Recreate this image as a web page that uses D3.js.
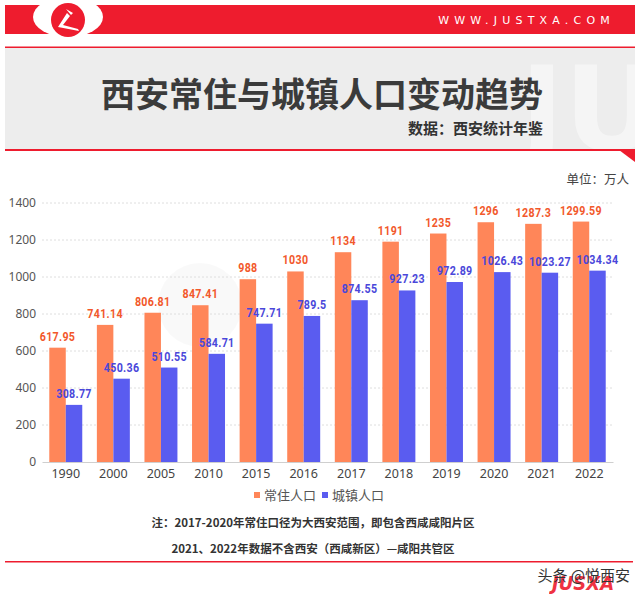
<!DOCTYPE html>
<html><head><meta charset="utf-8">
<script src="https://cdn.jsdelivr.net/npm/d3@7"></script>
<style>
html,body{margin:0;padding:0;background:#fff;}
svg{display:block;font-family:"Noto Sans CJK SC","Noto Sans",sans-serif;}
</style></head>
<body>
<svg id="chart" width="640" height="597"></svg>
<script>
const years = ["1990","2000","2005","2010","2015","2016","2017","2018","2019","2020","2021","2022"];
const residentPop = [617.95,741.14,806.81,847.41,988,1030,1134,1191,1235,1296,1287.3,1299.59];
const urbanPop = [308.77,450.36,510.55,584.71,747.71,789.5,874.55,927.23,972.89,1026.43,1023.27,1034.34];
const seriesNames = ["常住人口","城镇人口"];
const yTicks = [0,200,400,600,800,1000,1200,1400];
const titleText = "西安常住与城镇人口变动趋势";
const subtitleText = "数据：西安统计年鉴";
const unitText = "单位：万人";
const noteLines = ["注：2017-2020年常住口径为大西安范围，即包含西咸咸阳片区","2021、2022年数据不含西安（西咸新区）—咸阳共管区"];

const barColors = ["#FF8659","#5A5CF0"];
const labelColors = ["#F2582B","#4A47DA"];
const red = "#EE1C2E";

const svg = d3.select("#chart");

const defs = svg.append("defs");
defs.append("clipPath").attr("id","grayClip").append("rect").attr("x",5).attr("y",48).attr("width",630).attr("height",101);

// Header
svg.append("rect").attr("x",5).attr("y",5).attr("width",630).attr("height",29).attr("fill",red);
svg.append("ellipse").attr("cx",68).attr("cy",17).attr("rx",35).attr("ry",20).attr("fill","#fff");
svg.append("circle").attr("cx",68).attr("cy",20).attr("r",17).attr("fill",red);
svg.append("path").attr("d","M58,27 L67,13 L70,16 L63,25 L78,29 L79,31 Z M66,9 L73,13 L71,15 Z")
  .attr("fill","#fff");
svg.append("text").attr("x",615).attr("y",24).attr("text-anchor","end")
  .attr("fill","#fff").attr("font-size",11).attr("letter-spacing",5.2)
  .attr("font-family","'DejaVu Sans',sans-serif").text("WWW.JUSTXA.COM");

// Gray band
svg.append("rect").attr("x",5).attr("y",46.5).attr("width",630).attr("height",1.5).attr("fill",red);
svg.append("rect").attr("x",5).attr("y",48).attr("width",630).attr("height",101).attr("fill","#EDEDED");
svg.append("g").attr("clip-path","url(#grayClip)").append("text").attr("x",520).attr("y",150)
  .attr("font-size",118).attr("font-weight",700).attr("fill","#fff").attr("opacity",0.45)
  .attr("font-family","'DejaVu Sans',sans-serif").text("JUS");
svg.append("rect").attr("x",5).attr("y",149).attr("width",630).attr("height",2).attr("fill",red);
svg.append("path").attr("d","M619,150 L635,150 L635,162 Z").attr("fill",red);

svg.append("text").attr("x",322).attr("y",107).attr("text-anchor","middle")
  .attr("font-size",34).attr("font-weight",700).attr("fill","#3B3B3B").text(titleText);
svg.append("text").attr("x",543).attr("y",134).attr("text-anchor","end")
  .attr("font-size",15).attr("font-weight",700).attr("fill","#333").text(subtitleText);

svg.append("text").attr("x",629).attr("y",184).attr("text-anchor","end")
  .attr("font-size",12.5).attr("fill","#444").text(unitText);

// Chart
const x0 = 42, x1 = 613, yTop = 203, yBot = 462;
const x = d3.scaleBand().domain(years).range([x0,x1]).paddingInner(0.307).paddingOuter(0.153);
const xs = d3.scaleBand().domain([0,1]).range([0,x.bandwidth()]);
const y = d3.scaleLinear().domain([0,1400]).range([yBot,yTop]);

// faint watermark
svg.append("circle").attr("cx",200).attr("cy",305).attr("r",42).attr("fill","#000").attr("opacity",0.025);

// grid
svg.append("g").selectAll("line").data(yTicks.filter(d=>d>0)).join("line")
  .attr("x1",x0).attr("x2",x1).attr("y1",d=>y(d)).attr("y2",d=>y(d))
  .attr("stroke","#DEDEDE").attr("stroke-width",1).attr("stroke-dasharray","2,2");

// y axis labels
const yAxis = d3.axisLeft(y).tickValues(yTicks).tickFormat(d3.format("d")).tickSize(0).tickPadding(5);
const gy = svg.append("g").attr("transform",`translate(${x0-1},0)`).call(yAxis);
gy.select(".domain").remove();
gy.selectAll("text").attr("font-size",12).attr("fill","#555")
  .attr("font-family","'Noto Sans',sans-serif");

// x axis
const xAxis = d3.axisBottom(x).tickSize(0).tickPadding(7);
const gx = svg.append("g").attr("transform",`translate(0,${yBot})`).call(xAxis);
gx.select(".domain").attr("stroke","#CFCFCF");
gx.selectAll("text").attr("font-size",12.5).attr("fill","#444")
  .attr("font-family","'Noto Sans',sans-serif");

// bars
const series = [residentPop, urbanPop];
series.forEach((vals,si)=>{
  const g = svg.append("g");
  g.selectAll("rect").data(years).join("rect")
    .attr("x",d=>x(d)+xs(si)).attr("width",xs.bandwidth())
    .attr("y",(d,i)=>y(vals[i])).attr("height",(d,i)=>yBot-y(vals[i]))
    .attr("fill",barColors[si]);
  g.selectAll("g.lbl").data(years).join("g").attr("class","lbl")
    .attr("transform",(d,i)=>`translate(${x(d)+xs(si)+xs.bandwidth()/2},${y(vals[i])-7}) scale(0.79,1)`)
    .append("text")
    .attr("text-anchor","middle")
    .attr("font-size",13.5).attr("font-weight",700)
    .attr("font-family","Roboto,sans-serif")
    .attr("letter-spacing",0.4)
    .attr("fill",labelColors[si])
    .text((d,i)=>String(vals[i]));
});

// legend
const lg = svg.append("g").attr("transform","translate(0,495)");
[254,322].forEach((lx,i)=>{
  lg.append("rect").attr("x",lx).attr("y",-3).attr("width",6).attr("height",6).attr("fill",barColors[i]);
  lg.append("text").attr("x",lx+10).attr("y",4.5).attr("font-size",13).attr("fill","#555").text(seriesNames[i]);
});

// notes
noteLines.forEach((t,i)=>{
  svg.append("text").attr("x",313).attr("y",527+i*25.5).attr("text-anchor","middle")
    .attr("font-size",11.5).attr("font-weight",700).attr("fill","#333").text(t);
});

// bottom line
svg.append("rect").attr("x",5).attr("y",561).attr("width",628).attr("height",1.5).attr("fill",red);

// bottom watermark
svg.append("text").attr("x",552).attr("y",590).attr("font-size",20).attr("font-weight",700)
  .attr("fill",red).attr("opacity",0.9).attr("font-family","'DejaVu Sans Condensed',sans-serif")
  .attr("font-style","italic").text("JUSXA");
svg.append("text").attr("x",630).attr("y",581).attr("text-anchor","end")
  .attr("font-size",15).attr("fill","#333").text("头条 @悦西安");
</script>
</body></html>
